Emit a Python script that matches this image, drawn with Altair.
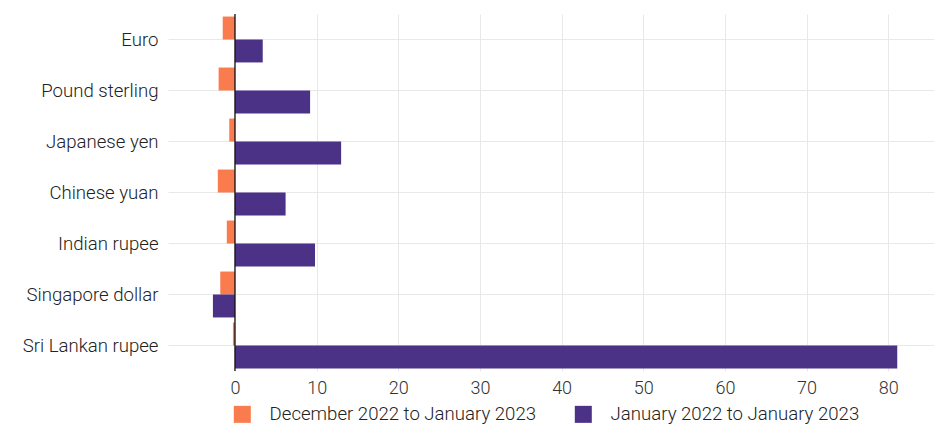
import altair as alt
import pandas as pd

currencies = ["Euro", "Pound sterling", "Japanese yen", "Chinese yuan",
              "Indian rupee", "Singapore dollar", "Sri Lankan rupee"]
series_names = ["December 2022 to January 2023", "January 2022 to January 2023"]
dec_to_jan = [-1.5, -2.0, -0.7, -2.1, -1.0, -1.8, -0.25]
yoy = [3.4, 9.2, 13.0, 6.2, 9.8, -2.7, 81.1]

rows = []
for c, a, b in zip(currencies, dec_to_jan, yoy):
    rows.append({"currency": c, "series": series_names[0], "value": a})
    rows.append({"currency": c, "series": series_names[1], "value": b})
df = pd.DataFrame(rows)

FONT = "Roboto"
FS = 18.6

bars = alt.Chart(df).mark_bar().encode(
    y=alt.Y("currency:N", sort=currencies, title=None,
            scale=alt.Scale(paddingInner=0.1, paddingOuter=0.05),
            axis=alt.Axis(grid=True, bandPosition=0.5, ticks=False, domain=False,
                          labelFontSize=FS, labelFont=FONT, labelFontWeight=300,
                          labelColor="#222222", labelPadding=10,
                          gridColor="#e8e8e8")),
    yOffset=alt.YOffset("series:N", sort=series_names),
    x=alt.X("value:Q", title=None,
            scale=alt.Scale(domain=[-8.2, 85.6], nice=False, zero=False),
            axis=alt.Axis(values=[0, 10, 20, 30, 40, 50, 60, 70, 80], grid=True,
                          ticks=False, domain=False, labelFontSize=18, labelFont=FONT,
                          labelFontWeight=300, labelColor="#333333",
                          labelPadding=8, gridColor="#e8e8e8")),
    color=alt.Color("series:N", sort=series_names,
                    scale=alt.Scale(domain=series_names, range=["#F97B4E", "#4B3287"]),
                    legend=alt.Legend(title=None, orient="none", legendX=65, legendY=391,
                                      direction="horizontal",
                                      symbolType="square", symbolSize=289,
                                      symbolStrokeWidth=0, labelFontSize=FS,
                                      labelFont=FONT, labelFontWeight=300,
                                      labelColor="#222222", labelOffset=18,
                                      labelLimit=400, columnPadding=37)),
)

zero = alt.Chart(pd.DataFrame({"x": [0]})).mark_rule(color="#111111", strokeWidth=1.3).encode(
    x="x:Q"
)

chart = alt.layer(bars, zero).properties(
    width=766, height=357,
    padding={"left": 14, "top": 5, "right": 0, "bottom": 0},
    background="white",
).configure_view(strokeWidth=0)

chart.save("out.html", embed_options={"renderer": "svg", "actions": False})
